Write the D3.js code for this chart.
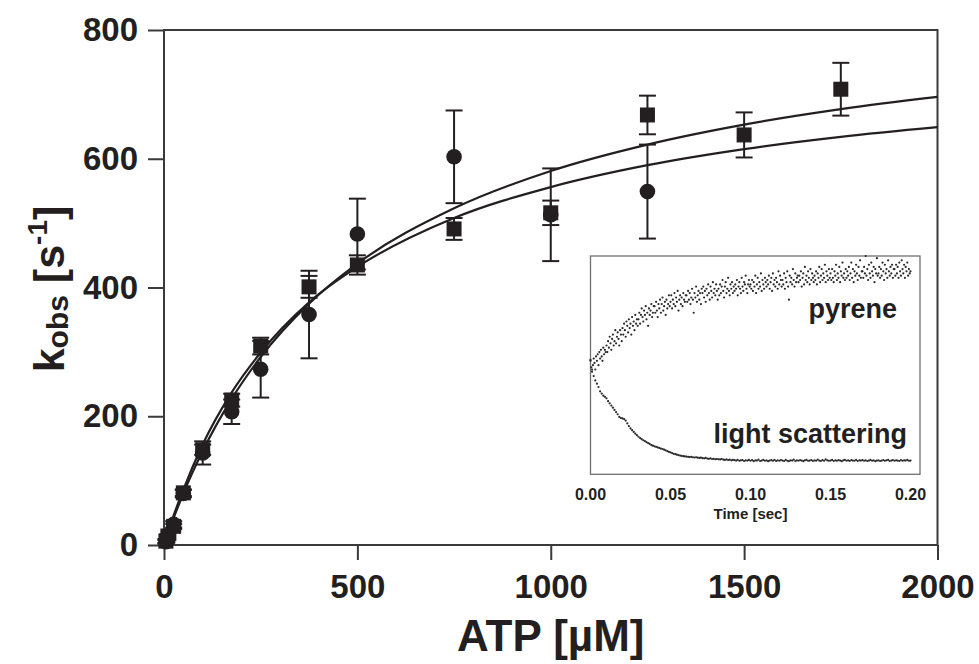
<!DOCTYPE html>
<html>
<head>
<meta charset="utf-8">
<script src="https://cdn.jsdelivr.net/npm/d3@7"></script>
<style>
  html, body { margin: 0; padding: 0; background: #fff; }
  svg { display: block; }
</style>
</head>
<body>
<script>
// ATP dependence of k_obs, two data sets with hyperbolic fits, plus a stopped-flow inset

const xTicks = [0, 500, 1000, 1500, 2000];
const yTicks = [0, 200, 400, 600, 800];

// circles
const circleATP = [5, 10, 25, 50, 100, 175, 250, 375, 500, 750, 1000, 1250];
const circleK   = [5, 11, 32, 80, 143, 207, 273, 358, 483, 603, 513, 549];
const circleErr = [3, 3, 5, 6, 18, 19, 44, 68, 55, 72, 72, 73];

// squares
const squareATP = [5, 10, 25, 50, 100, 175, 250, 375, 500, 750, 1000, 1250, 1500, 1750];
const squareK   = [6, 14, 29, 81, 148, 225, 309, 401, 435, 491, 516, 668, 637, 708];
const squareErr = [3, 3, 4, 5, 8, 10, 13, 17, 15, 17, 19, 30, 35, 41];

// fitted hyperbolas sampled along ATP
const fitATP    = [0, 25, 50, 100, 175, 250, 375, 500, 750, 1000, 1250, 1500, 1750, 2000];
const fitSquare = [0, 42, 80, 146, 227, 292, 375, 437, 523, 581, 622, 653, 677, 696];
const fitCircle = [0, 46, 86, 156, 237, 299, 377, 432, 508, 556, 590, 615, 634, 649];

// inset traces (arbitrary units), pyrene every 0.5 ms, light scattering every 1 ms
const insetTicks = [0, 0.05, 0.10, 0.15, 0.20];
const pyrene = [
  52,49,47,50,53,51,48,54,52,55,50,56,53,57,54,52,58,55,57,56,
  59,56,61,58,63,60,57,62,64,59,61,66,60,63,65,62,59,66,64,61,
  67,64,69,66,63,70,68,65,71,67,69,64,72,68,70,66,73,69,71,68,
  71,74,69,73,76,72,70,75,73,77,71,74,68,76,73,75,78,72,74,77,
  77,74,79,75,72,78,76,80,74,78,81,75,77,79,73,80,76,78,82,77,
  79,82,76,80,78,83,77,81,79,84,75,80,82,78,81,77,83,80,79,82,
  82,79,84,80,83,78,81,85,80,74,83,81,86,79,82,84,80,83,78,85,
  83,86,81,84,79,85,82,87,83,80,86,84,81,88,83,85,82,87,84,80,
  85,82,87,83,86,89,84,81,86,88,83,85,90,84,82,87,85,88,83,86,
  84,87,85,89,82,86,88,85,83,90,86,84,88,87,91,85,83,87,89,86,
  87,85,89,84,88,86,91,83,87,90,85,88,86,92,84,89,87,85,90,88,
  86,89,87,91,85,88,90,84,92,87,89,86,90,88,85,93,87,91,89,86,
  89,87,92,85,90,88,93,86,80,91,88,90,87,94,89,86,92,88,90,91,
  88,91,89,93,86,90,92,87,95,89,91,88,93,90,87,94,89,92,90,88,
  91,89,93,87,92,90,95,88,91,94,89,92,90,96,88,93,91,89,94,90,
  92,89,94,90,88,93,91,96,89,92,90,95,88,93,91,97,90,92,89,94,
  90,93,91,95,89,92,97,90,94,88,93,91,96,92,89,95,91,98,90,93,
  93,90,95,92,100,91,94,89,96,92,90,97,93,91,95,88,94,92,99,91,
  92,95,90,94,91,97,93,89,96,92,94,90,98,93,91,95,92,96,90,94,
  94,91,96,92,95,90,97,93,91,98,94,92,96,90,95,93,97,91,94,92,
  93
];
const scattering = [
  52.4,48,45,43,41.5,40,38,37,36,35.5,
  34.8,33.5,32.5,31.5,30.5,29.5,28.5,27.5,26.3,25.8,
  25.6,25.3,24.6,23.3,22.1,21,20.2,19.4,18.6,17.9,
  17.2,16.6,16.1,15.6,15.2,14.7,14.3,13.9,13.4,13.1,
  12.8,12.6,12.3,12.1,11.8,11.6,11.3,11.0,10.6,10.3,
  10.0,9.7,9.4,9.2,9.0,8.8,8.6,8.4,8.3,8.2,
  8.1,8.0,7.9,8.0,7.8,7.7,7.8,7.6,7.5,7.6,
  7.4,7.3,7.5,7.2,7.1,7.3,7.0,7.1,6.9,7.0,
  6.9,6.8,7.0,6.7,6.6,6.8,6.5,6.7,6.4,6.6,
  6.5,6.3,6.6,6.2,6.4,6.5,6.1,6.4,6.3,6.6,
  6.2,6.5,6.0,6.4,6.3,6.7,6.1,6.3,6.6,6.2,
  6.4,6.0,6.3,6.5,6.2,6.6,6.1,6.4,6.2,6.5,
  6.3,6.1,6.6,6.2,6.0,6.4,6.3,6.7,6.1,6.4,
  6.2,6.5,6.3,6.0,6.4,6.6,6.2,6.3,6.5,6.1,
  6.4,6.2,6.7,6.3,6.1,6.5,6.2,6.8,6.4,6.2,
  6.3,6.6,6.1,6.4,6.2,6.5,6.3,6.0,6.4,6.6,
  6.2,6.4,6.1,6.5,6.3,6.2,6.6,6.1,6.4,6.3,
  6.5,6.2,6.4,6.1,6.3,6.6,6.2,6.4,6.0,6.3,
  6.4,6.1,6.3,6.5,6.2,6.4,6.6,6.1,6.3,6.5,
  6.2,6.4,6.3,6.1,6.5,6.2,6.4,6.3,6.6,6.2,
  6.3
];

const ink = "#231f20";
const axisInk = "#3a3a3a";
const font = "'Liberation Sans', Arial, Helvetica, sans-serif";

const svg = d3.select("body").append("svg")
  .attr("width", 979).attr("height", 664);
svg.append("rect").attr("width", 979).attr("height", 664).attr("fill", "#fff");

const x = d3.scaleLinear().domain([0, 2000]).range([164, 937.5]);
const y = d3.scaleLinear().domain([0, 800]).range([545, 30]);

// axes
const gx = svg.append("g")
  .attr("transform", `translate(0,${y(0)})`)
  .call(d3.axisBottom(x).tickValues(xTicks).tickSize(15).tickSizeOuter(0).tickPadding(15)
    .tickFormat(d3.format("d")));
const gy = svg.append("g")
  .attr("transform", `translate(${x(0)},0)`)
  .call(d3.axisLeft(y).tickValues(yTicks).tickSize(16).tickSizeOuter(0).tickPadding(10)
    .tickFormat(d3.format("d")));
[gx, gy].forEach(g => {
  g.select(".domain").remove();
  g.attr("font-family", font).attr("font-size", 33).attr("font-weight", "bold");
  g.selectAll("line").attr("stroke", axisInk).attr("stroke-width", 2);
  g.selectAll("text").attr("fill", ink);
});

// plot frame
svg.append("rect")
  .attr("x", x(0)).attr("y", y(800))
  .attr("width", x(2000) - x(0)).attr("height", y(0) - y(800))
  .attr("fill", "none").attr("stroke", axisInk).attr("stroke-width", 2);

// axis titles
svg.append("text")
  .attr("x", (x(0) + x(2000)) / 2).attr("y", 651)
  .attr("text-anchor", "middle")
  .attr("font-family", font).attr("font-size", 44).attr("font-weight", "bold")
  .attr("fill", ink)
  .text("ATP [µM]");

const yt = svg.append("text")
  .attr("transform", "translate(64,289) rotate(-90)")
  .attr("text-anchor", "middle")
  .attr("font-family", font).attr("font-size", 43).attr("font-weight", "bold")
  .attr("fill", ink);
yt.append("tspan").text("k");
yt.append("tspan").attr("font-size", 30).attr("dy", 4).text("obs");
yt.append("tspan").attr("dy", -4).text(" [s");
yt.append("tspan").attr("font-size", 28).attr("dy", -17).text("-1");
yt.append("tspan").attr("dy", 17).text("]");

// fitted curves
const line = d3.line().curve(d3.curveMonotoneX)
  .x(d => x(d[0])).y(d => y(d[1]));
[fitSquare, fitCircle].forEach(fit => {
  svg.append("path")
    .datum(fitATP.map((a, i) => [a, fit[i]]))
    .attr("d", line)
    .attr("fill", "none").attr("stroke", ink).attr("stroke-width", 2.2);
});

// error bars
function errorBars(atp, k, err) {
  const g = svg.append("g").attr("stroke", ink).attr("stroke-width", 2);
  atp.forEach((a, i) => {
    const cx = x(a), y0 = y(k[i] - err[i]), y1 = y(k[i] + err[i]);
    g.append("line").attr("x1", cx).attr("x2", cx).attr("y1", y0).attr("y2", y1);
    g.append("line").attr("x1", cx - 8.5).attr("x2", cx + 8.5).attr("y1", y0).attr("y2", y0);
    g.append("line").attr("x1", cx - 8.5).attr("x2", cx + 8.5).attr("y1", y1).attr("y2", y1);
  });
}
errorBars(circleATP, circleK, circleErr);
errorBars(squareATP, squareK, squareErr);

// markers
svg.append("g").selectAll("circle")
  .data(circleATP.map((a, i) => [a, circleK[i]]))
  .join("circle")
  .attr("cx", d => x(d[0])).attr("cy", d => y(d[1])).attr("r", 7.8)
  .attr("fill", ink);
svg.append("g").selectAll("rect")
  .data(squareATP.map((a, i) => [a, squareK[i]]))
  .join("rect")
  .attr("x", d => x(d[0]) - 7.5).attr("y", d => y(d[1]) - 7.5)
  .attr("width", 15).attr("height", 15)
  .attr("fill", ink);

// inset: stopped-flow traces
const ix = d3.scaleLinear().domain([0, 0.2]).range([590.5, 910.5]);
const iy = d3.scaleLinear().domain([0, 100]).range([474.3, 256]);
const inset = svg.append("g");
inset.append("rect")
  .attr("x", 590.5).attr("y", 256)
  .attr("width", 920 - 590.5).attr("height", 474.3 - 256)
  .attr("fill", "#fff").attr("stroke", "#707070").attr("stroke-width", 1.3);

const pyreneT = pyrene.map((_, i) => i * 0.0005);
const scatterT = scattering.map((_, i) => i * 0.001);
inset.append("g").selectAll("circle")
  .data(pyrene.map((v, i) => [pyreneT[i], v]))
  .join("circle")
  .attr("cx", d => ix(d[0])).attr("cy", d => iy(d[1])).attr("r", 1.1)
  .attr("fill", "#2a2a2a");
inset.append("g").selectAll("circle")
  .data(scattering.map((v, i) => [scatterT[i], v]))
  .join("circle")
  .attr("cx", d => ix(d[0])).attr("cy", d => iy(d[1])).attr("r", 1.1)
  .attr("fill", "#2a2a2a");

inset.append("g").selectAll("text")
  .data(insetTicks)
  .join("text")
  .attr("x", d => ix(d)).attr("y", 500)
  .attr("text-anchor", "middle")
  .attr("font-family", font).attr("font-size", 16).attr("font-weight", "bold")
  .attr("fill", ink)
  .text(d => d3.format(".2f")(d));
inset.append("text")
  .attr("x", ix(0.1)).attr("y", 519)
  .attr("text-anchor", "middle")
  .attr("font-family", font).attr("font-size", 15).attr("font-weight", "bold")
  .attr("fill", ink)
  .text("Time [sec]");

inset.append("text")
  .attr("x", 897).attr("y", 318)
  .attr("text-anchor", "end")
  .attr("font-family", font).attr("font-size", 27).attr("font-weight", "bold")
  .attr("fill", ink)
  .text("pyrene");
inset.append("text")
  .attr("x", 907).attr("y", 443)
  .attr("text-anchor", "end")
  .attr("font-family", font).attr("font-size", 27).attr("font-weight", "bold")
  .attr("fill", ink)
  .text("light scattering");
</script>
</body>
</html>
